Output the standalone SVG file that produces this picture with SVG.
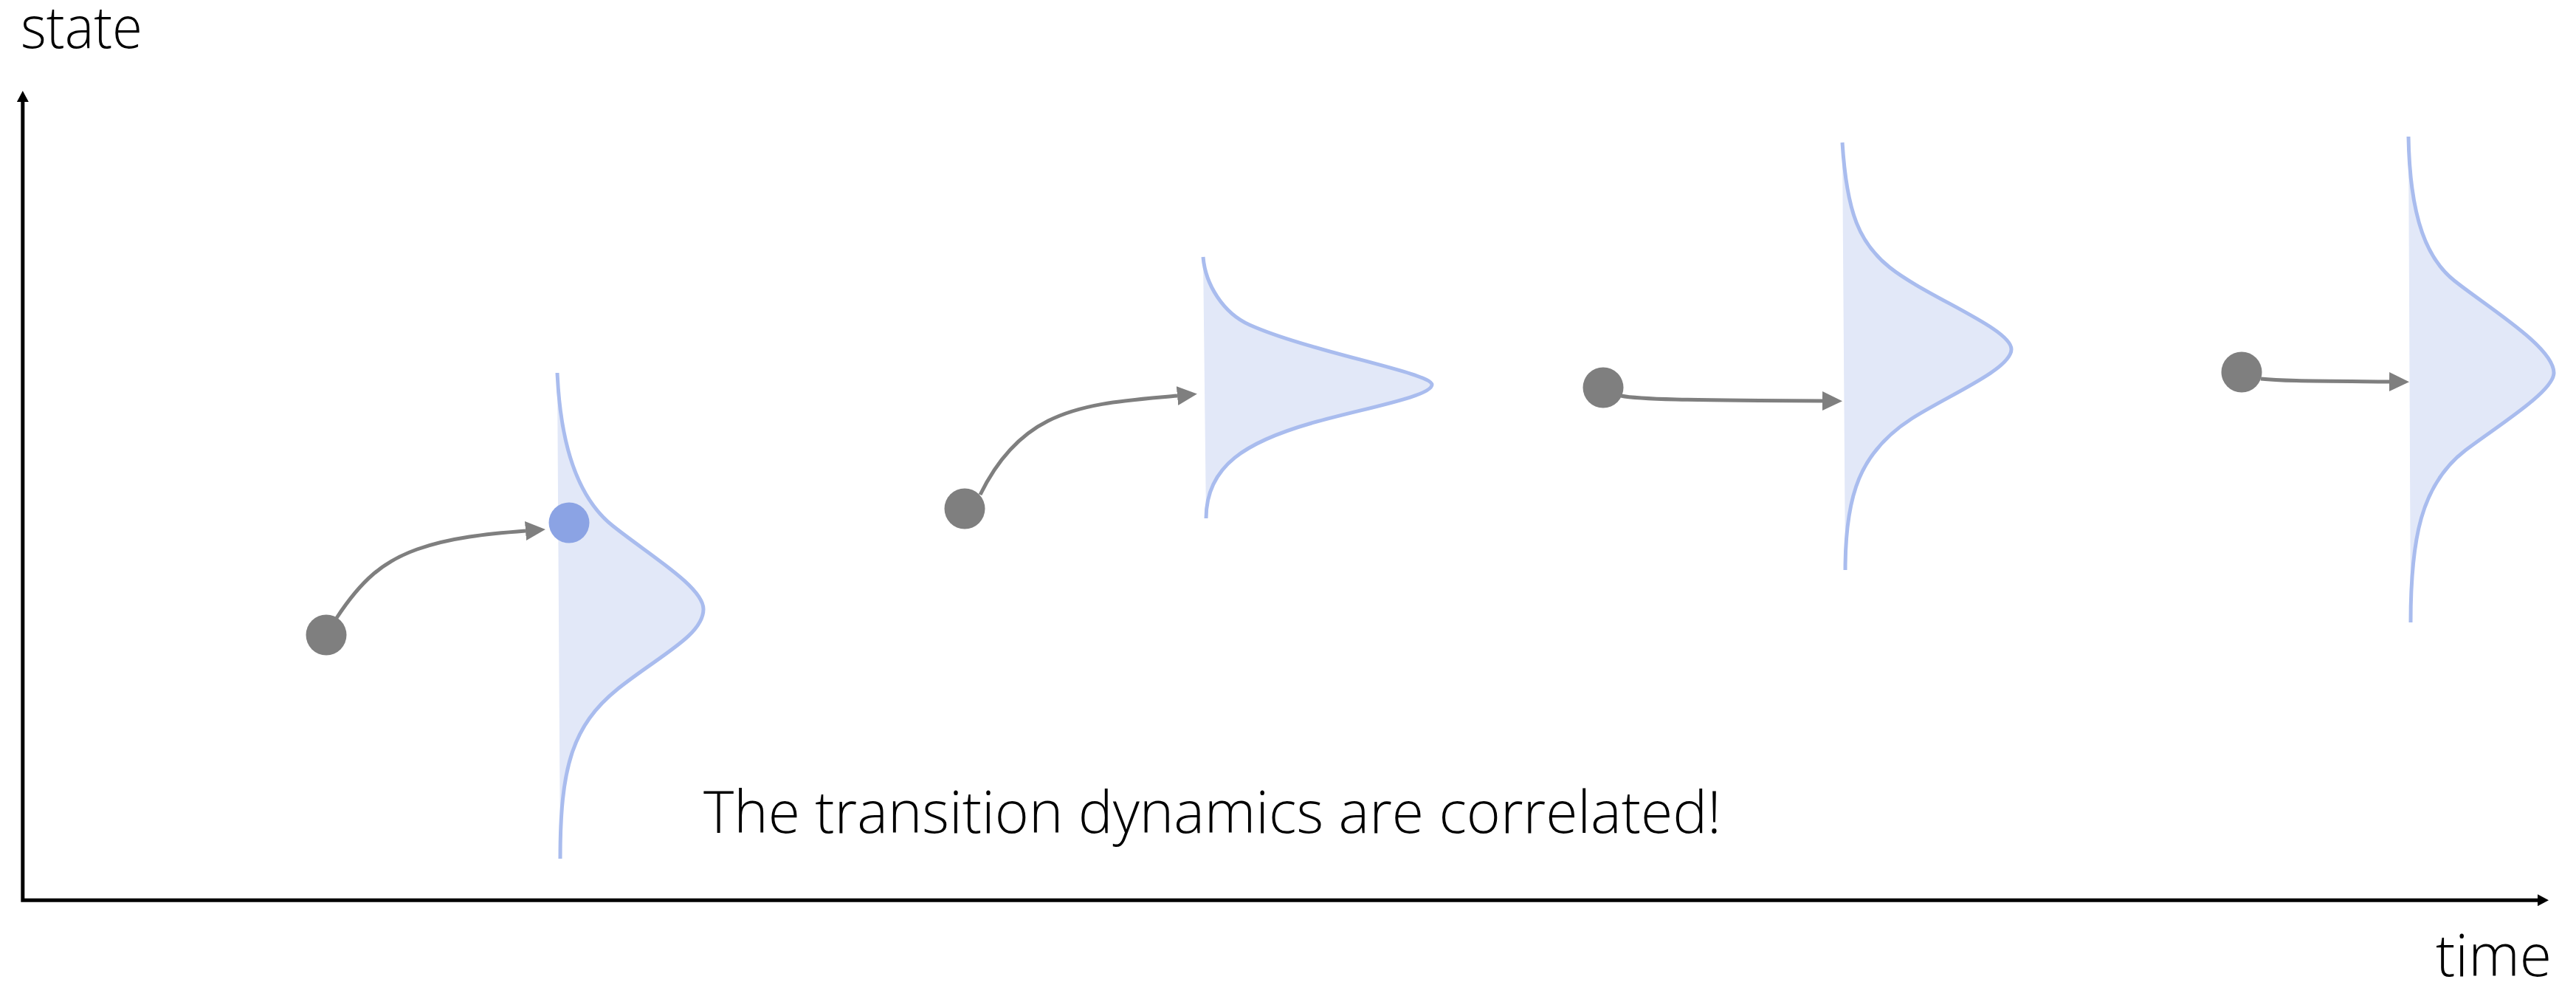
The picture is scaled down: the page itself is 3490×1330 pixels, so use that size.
<svg xmlns="http://www.w3.org/2000/svg" width="3490" height="1330" viewBox="0 0 3490 1330">
  <style>
    .axis { fill: none; stroke: #000; stroke-width: 5; stroke-linejoin: miter; }
    .label { font-family: "Open Sans", "Segoe UI", "Liberation Sans", sans-serif; font-weight: 300; font-size: 80px; fill: #000; }
    .pdf-fill { fill: #E2E8F8; stroke: none; }
    .pdf-line { fill: none; stroke: #A9BCEE; stroke-width: 5; }
    .state { fill: #7F7F7F; }
    .sample { fill: #8BA3E4; }
    .step { fill: none; stroke: #7F7F7F; stroke-width: 5; marker-end: url(#head); }
  </style>
  <defs>
    <marker id="axisHead" markerUnits="userSpaceOnUse" viewBox="0 0 15 16" markerWidth="15" markerHeight="16" refX="0" refY="8" orient="auto-start-reverse">
      <path d="M0,0 L15,8 L0,16 Z" fill="#000"/>
    </marker>
    <marker id="head" markerUnits="userSpaceOnUse" viewBox="0 0 27 26" markerWidth="27" markerHeight="26" refX="0" refY="13" orient="auto">
      <path d="M0,0 L27,13 L0,26 Z" fill="#7F7F7F"/>
    </marker>
  </defs>

  <rect width="3490" height="1330" fill="#FFFFFF"/>

  <!-- axes -->
  <g id="axes">
    <path class="axis" d="M30.8,138 L30.8,1219.2 L3438,1219.2" marker-start="url(#axisHead)" marker-end="url(#axisHead)"/>
    <text class="label" x="28" y="65" textLength="165" lengthAdjust="spacingAndGlyphs">state</text>
    <text class="label" x="3300" y="1322" textLength="157" lengthAdjust="spacingAndGlyphs">time</text>
  </g>

  <!-- transition densities -->
  <g id="density-1">
    <path class="pdf-fill" d="M755,505 C760,620 790,680 830,712 C880,752 953,795 953,825 C953,860 895,887 837,933 C775,983 759,1040 759,1163 L755,505 Z"/>
    <path class="pdf-line" d="M755,505 C760,620 790,680 830,712 C880,752 953,795 953,825 C953,860 895,887 837,933 C775,983 759,1040 759,1163"/>
  </g>
  <g id="density-2">
    <path class="pdf-fill" d="M1630,348 C1633,385 1657,424 1693,440 C1773,476 1940,505 1940,521 C1940,537 1847,553 1777,573 C1690,598 1634,630 1634,702 L1630,348 Z"/>
    <path class="pdf-line" d="M1630,348 C1633,385 1657,424 1693,440 C1773,476 1940,505 1940,521 C1940,537 1847,553 1777,573 C1690,598 1634,630 1634,702"/>
  </g>
  <g id="density-3">
    <path class="pdf-fill" d="M2496,193 C2502,290 2520,330 2560,362 C2610,402 2725,445 2725,473 C2725,500 2640,535 2590,567 C2520,612 2500,670 2500,772 L2496,193 Z"/>
    <path class="pdf-line" d="M2496,193 C2502,290 2520,330 2560,362 C2610,402 2725,445 2725,473 C2725,500 2640,535 2590,567 C2520,612 2500,670 2500,772"/>
  </g>
  <g id="density-4">
    <path class="pdf-fill" d="M3263,185 C3265,300 3290,352 3325,380 C3370,416 3460,470 3460,505 C3460,530 3385,576 3340,610 C3280,656 3266,730 3266,843 L3263,185 Z"/>
    <path class="pdf-line" d="M3263,185 C3265,300 3290,352 3325,380 C3370,416 3460,470 3460,505 C3460,530 3385,576 3340,610 C3280,656 3266,730 3266,843"/>
  </g>

  <!-- states -->
  <g id="state-1"><circle class="state" cx="442" cy="860" r="27.5"/></g>
  <g id="sample-1"><circle class="sample" cx="771" cy="708" r="27.5"/></g>
  <g id="state-2"><circle class="state" cx="1307" cy="689" r="27.5"/></g>
  <g id="state-3"><circle class="state" cx="2172" cy="525" r="27.5"/></g>
  <g id="state-4"><circle class="state" cx="3037" cy="504" r="27.5"/></g>

  <!-- transitions -->
  <g id="connectors">
    <path class="step" d="M456,837 C490,785 520,760 565,744 C610,728 660,723 712,719"/>
    <path class="step" d="M1328,670 C1350,625 1380,590 1420,570 C1470,545 1530,542 1595,536"/>
    <path class="step" d="M2196,536 C2220,541 2280,542 2469,543"/>
    <path class="step" d="M3063,513 C3090,516 3130,516 3237,517"/>
  </g>

  <g id="caption">
    <text class="label" x="953" y="1128" textLength="1379" lengthAdjust="spacingAndGlyphs">The transition dynamics are correlated!</text>
  </g>
</svg>
